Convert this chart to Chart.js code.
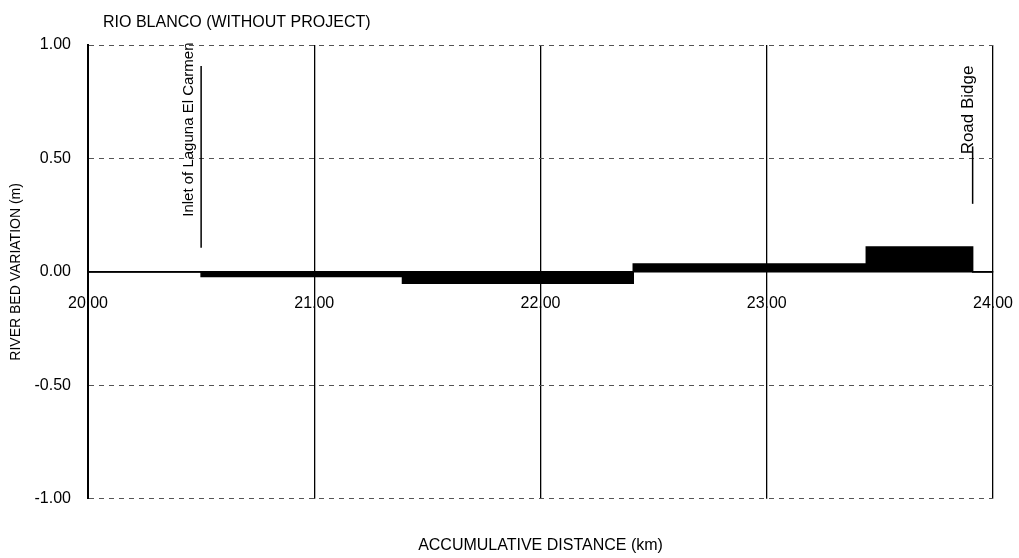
<!DOCTYPE html>
<html>
<head>
<meta charset="utf-8">
<script src="https://cdn.jsdelivr.net/npm/chart.js@4.4.1/dist/chart.umd.min.js"></script>
<style>
html, body { margin: 0; padding: 0; background: #fff; }
#wrap { width: 1019px; height: 558px; position: relative; }
</style>
</head>
<body>
<div id="wrap"><canvas id="chartCanvas"></canvas></div>
<script>
"use strict";

// river bed variation, step values starting at each distance (km)
const distances = [20.00, 20.50, 21.39, 22.41, 23.44, 23.91, 24.00];
const variation = [0.00, -0.02, -0.05, 0.035, 0.11, 0.00, 0.00];

// structures along the river
const markerNames = ["Inlet of Laguna El Carmen", "Road Bidge"];
const markerKm = [20.50, 23.91];
const markerFrom = [0.106, 0.30];
const markerTo = [0.907, 0.553];
const markerTextAt = [0.243, 0.518];

const chartTitle = "RIO BLANCO (WITHOUT PROJECT)";
const fontName = "'Liberation Sans', Arial, sans-serif";

const points = distances.map((d, i) => ({ x: d, y: variation[i] }));

const titlePlugin = {
    id: 'titleText',
    afterDraw(chart) {
        const ctx = chart.ctx;
        ctx.save();
        ctx.font = "16px " + fontName;
        ctx.fillStyle = '#000';
        ctx.textBaseline = 'middle';
        ctx.fillText(chartTitle, 103, 23);
        ctx.restore();
    }
};

const markerPlugin = {
    id: 'markers',
    afterDatasetsDraw(chart) {
        const { ctx, scales: { x, y } } = chart;
        ctx.save();
        markerKm.forEach((km, i) => {
            const px = x.getPixelForValue(km);
            ctx.strokeStyle = '#000';
            ctx.lineWidth = 1.5;
            ctx.beginPath();
            ctx.moveTo(px, y.getPixelForValue(markerTo[i]));
            ctx.lineTo(px, y.getPixelForValue(markerFrom[i]));
            ctx.stroke();

            ctx.save();
            ctx.translate(i === 0 ? px - 12 : px - 4, y.getPixelForValue(markerTextAt[i]));
            ctx.rotate(-Math.PI / 2);
            ctx.font = (i === 0 ? "15px " : "17px ") + fontName;
            ctx.fillStyle = '#000';
            ctx.textAlign = 'left';
            ctx.textBaseline = 'middle';
            ctx.fillText(markerNames[i], 0, 0);
            ctx.restore();
        });
        ctx.restore();
    }
};

const ctx = document.getElementById('chartCanvas');

new Chart(ctx, {
    type: 'line',
    data: {
        datasets: [{
            label: 'River bed variation',
            data: points,
            stepped: true,
            fill: 'origin',
            backgroundColor: '#000',
            borderColor: '#000',
            borderWidth: 1.5,
            pointRadius: 0
        }]
    },
    options: {
        responsive: true,
        maintainAspectRatio: false,
        animation: false,
        layout: { padding: { top: 45, right: 26, bottom: 3, left: 8 } },
        plugins: {
            legend: { display: false },
            tooltip: { enabled: false }
        },
        scales: {
            x: {
                type: 'linear',
                position: { y: 0 },
                min: 20,
                max: 24,
                afterFit: (axis) => {
                    axis.paddingLeft = 0;
                    axis.paddingRight = 0;
                },
                ticks: {
                    stepSize: 1,
                    padding: 22,
                    color: '#000',
                    font: { family: fontName, size: 16 },
                    callback: (v) => v.toFixed(2)
                },
                grid: { color: '#000', lineWidth: 1.3, drawTicks: false },
                border: { display: true, color: '#000', width: 1.5 }
            },
            x2: {
                type: 'linear',
                position: 'bottom',
                min: 20,
                max: 24,
                ticks: { display: false },
                grid: { display: false, drawTicks: false },
                border: { display: false },
                title: {
                    display: true,
                    text: 'ACCUMULATIVE DISTANCE (km)',
                    color: '#000',
                    font: { family: fontName, size: 16 },
                    padding: { top: 37, bottom: 0 }
                }
            },
            y: {
                min: -1,
                max: 1,
                afterFit: (axis) => {
                    axis.width = 80;
                },
                ticks: {
                    stepSize: 0.5,
                    padding: 17,
                    color: '#000',
                    font: { family: fontName, size: 16 },
                    callback: (v) => v.toFixed(2)
                },
                grid: {
                    drawTicks: false,
                    lineWidth: 1,
                    color: (c) => (c.tick && c.tick.value === 0) ? '#000' : '#555'
                },
                border: {
                    display: true,
                    color: '#000',
                    width: 2,
                    dash: (c) => (c.tick && c.tick.value !== 0) ? [5, 5] : []
                },
                title: {
                    display: true,
                    text: 'RIVER BED VARIATION (m)',
                    color: '#000',
                    font: { family: fontName, size: 14 },
                    padding: { top: 0, bottom: 12 }
                }
            }
        }
    },
    plugins: [titlePlugin, markerPlugin]
});
</script>
</body>
</html>
